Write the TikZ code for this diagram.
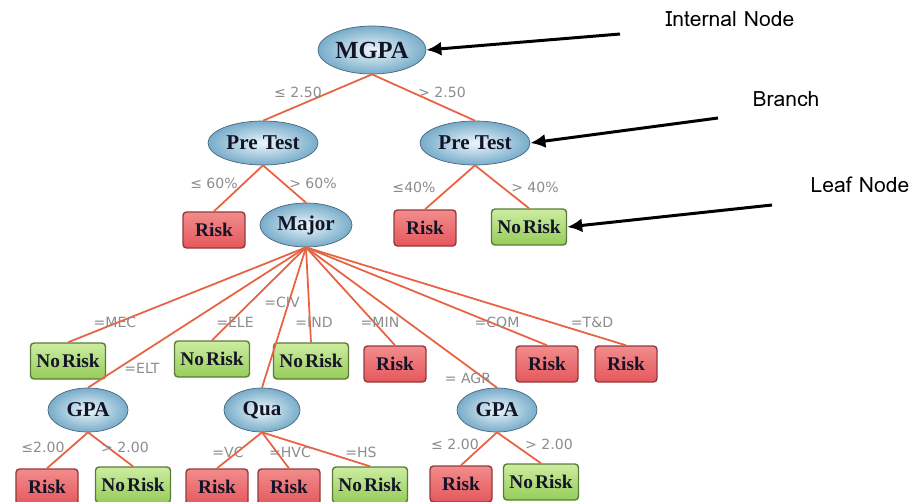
\documentclass[tikz,border=0pt]{standalone}
\usepackage{fontspec}
\usepackage{xcolor}
\usetikzlibrary{shapes.geometric,arrows.meta}
\newfontfamily\nodefont{Liberation Serif}
\newfontfamily\lblfont{DejaVu Sans}
\newfontfamily\notefont{Loma}
\newcommand\leaffont{\nodefont\bfseries\fontsize{11}{12}\selectfont\spaceskip=1.2pt\relax}
\definecolor{brc}{RGB}{232,98,66}
\definecolor{ellc}{RGB}{120,172,202}
\definecolor{ellin}{RGB}{235,247,250}
\definecolor{riskc}{RGB}{228,88,92}
\definecolor{riskt}{RGB}{242,140,140}
\definecolor{safec}{RGB}{150,205,90}
\definecolor{safet}{RGB}{205,236,160}
\definecolor{inkc}{RGB}{20,20,40}

\begin{document}
\begin{tikzpicture}[x=0.2mm,y=-0.2mm]
\useasboundingbox (0,0) rectangle (917,501);
\tikzset{
  br/.style={draw=brc, line width=1pt},
  lbl/.style={text=black!45, font=\lblfont\fontsize{8}{9}\selectfont, inner sep=1pt},
  note/.style={font=\notefont\fontsize{12}{13}\selectfont},
  ptr/.style={line width=1.7pt, -{Latex[length=3mm,width=2.8mm]}}
}
 % internal nodes
 \begin{scope}[every node/.style={ellipse, draw=ellc!60!black, line width=0.4pt,
     inner color=ellin, outer color=ellc, text=inkc,
     font=\nodefont\bfseries\fontsize{12}{13}\selectfont, inner sep=0pt,
     minimum height=8.8mm}]
  \node[minimum width=21.6mm, minimum height=9.6mm, font=\nodefont\bfseries\fontsize{14}{15}\selectfont] (mgpa) at (372,50) {MGPA};
  \node[minimum width=22mm] (pre1) at (263,143) {Pre Test};
  \node[minimum width=22mm] (pre2) at (475,143) {Pre Test};
  \node[minimum width=18.4mm] (major) at (306,225) {Major};
  \node[minimum width=16mm] (gpa1) at (88,410) {GPA};
  \node[minimum width=15.2mm] (qua) at (262,410) {Qua};
  \node[minimum width=16mm] (gpa2) at (497,410) {GPA};
 \end{scope}
 % leaf nodes
 \begin{scope}[every node/.style={rectangle, rounded corners=2pt, line width=0.8pt,
     text=inkc, font=\leaffont, inner sep=0pt, minimum height=7.2mm}]
  \tikzset{risk/.style={draw=riskc!65!black, top color=riskt, bottom color=riskc, minimum width=12.4mm},
           safe/.style={draw=safec!60!black, top color=safet, bottom color=safec, minimum width=15mm}}
  \node[risk] (l1) at (214,230) {Risk};
  \node[risk] (l2) at (425,228) {Risk};
  \node[safe] (l3) at (529,227) {No Risk};
  \node[safe] (l4) at (68,361) {No Risk};
  \node[safe] (l5) at (212,359) {No Risk};
  \node[safe] (l6) at (311,361) {No Risk};
  \node[risk] (l7) at (395,364) {Risk};
  \node[risk] (l8) at (547,364) {Risk};
  \node[risk] (l9) at (626,364) {Risk};
  \node[risk] (l10) at (47,487) {Risk};
  \node[safe] (l11) at (133,485) {No Risk};
  \node[risk] (l12) at (217,487) {Risk};
  \node[risk] (l13) at (289,487) {Risk};
  \node[safe] (l14) at (370,485) {No Risk};
  \node[risk] (l15) at (461,484) {Risk};
  \node[safe] (l16) at (541,482) {No Risk};
 \end{scope}
 % branches
  \path [br] (mgpa.south) edge (pre1.north);
  \path [br] (mgpa.south) edge (pre2.north);
  \path [br] (pre1.south) edge (l1.north);
  \path [br] (pre1.south) edge (major.north);
  \path [br] (pre2.south) edge (l2.north);
  \path [br] (pre2.south) edge (l3.north);
  \foreach \c in {l4,gpa1,l5,qua,l6,l7,gpa2,l8,l9}
    \path [br] (major.south) edge (\c.north);
  \path [br] (gpa1.south) edge (l10.north);
  \path [br] (gpa1.south) edge (l11.north);
  \path [br] (qua.south) edge (l12.north);
  \path [br] (qua.south) edge (l13.north);
  \path [br] (qua.south) edge (l14.north);
  \path [br] (gpa2.south) edge (l15.north);
  \path [br] (gpa2.south) edge (l16.north);
 % branch labels
  \node[lbl] (b1) at (298,92) {≤ 2.50};
  \node[lbl] (b2) at (442,92) {> 2.50};
  \node[lbl] (b3) at (214,183) {≤ 60\%};
  \node[lbl] (b4) at (313,183) {> 60\%};
  \node[lbl] (b5) at (414,187) {≤40\%};
  \node[lbl] (b6) at (535,187) {> 40\%};
  \node[lbl] (b7) at (115,322) {=MEC};
  \node[lbl] (b8) at (142,368) {=ELT};
  \node[lbl] (b9) at (235,322) {=ELE};
  \node[lbl] (b10) at (282,302) {=CIV};
  \node[lbl] (b11) at (314,322) {=IND};
  \node[lbl] (b12) at (380,322) {=MIN};
  \node[lbl] (b13) at (497,322) {=COM};
  \node[lbl] (b14) at (592,322) {=T\&D};
  \node[lbl] (b15) at (468,378) {= AGR};
  \node[lbl] (b16) at (43,447) {≤2.00};
  \node[lbl] (b17) at (125,447) {> 2.00};
  \node[lbl] (b18) at (228,452) {=VC};
  \node[lbl] (b19) at (290,452) {=HVC};
  \node[lbl] (b20) at (361,452) {=HS};
  \node[lbl] (b21) at (455,444) {≤ 2.00};
  \node[lbl] (b22) at (549,444) {> 2.00};
 % notes
  \node[note] (n1) at (730,19) {Internal Node};
  \node[note] (n2) at (786,99) {Branch};
  \node[note] (n3) at (860,185) {Leaf Node};
  \coordinate (p1) at (620,34);
  \coordinate (p2) at (718,118);
  \coordinate (p3) at (772,205);
  \draw [ptr] (p1) -- (mgpa.east);
  \draw [ptr] (p2) -- (pre2.east);
  \draw [ptr] (p3) -- (l3.east);
\end{tikzpicture}
\end{document}
